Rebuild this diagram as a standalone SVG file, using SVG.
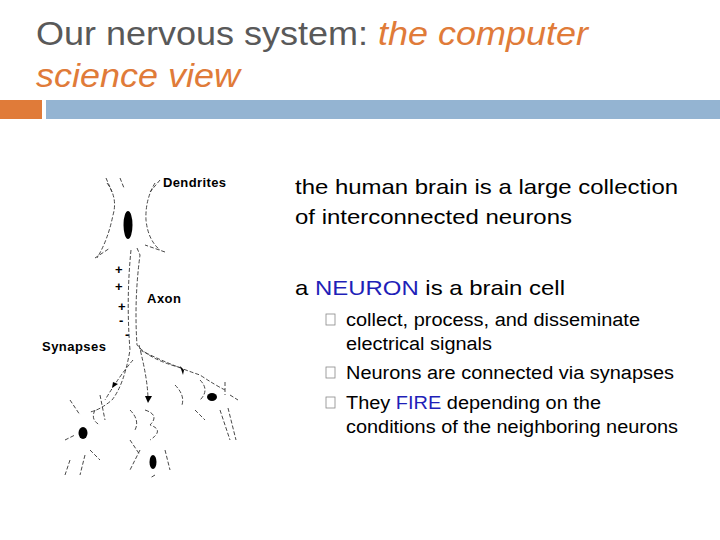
<svg xmlns="http://www.w3.org/2000/svg" width="720" height="540" viewBox="0 0 720 540">
<style>
.t{font-family:"Liberation Sans",Arial,sans-serif;fill:#595959;font-size:33px}
.o{fill:#E07B39;font-style:italic}
.b{font-family:"Liberation Sans",Arial,sans-serif;fill:#000;font-size:21px}
.s{font-family:"Liberation Sans",Arial,sans-serif;fill:#000;font-size:18px}
.bl{fill:#1F1FB8}
.lb{font-family:"Liberation Sans",Arial,sans-serif;font-weight:bold;font-size:13px;fill:#000}
.d{fill:none;stroke:#333;stroke-width:0.9;stroke-dasharray:4 2}
.n{fill:#000}
.bx{fill:none;stroke:#888;stroke-width:0.8}
</style>
<rect width="720" height="540" fill="#fff"/>
<g id="title">
<text class="t" x="36" y="45" textLength="552" lengthAdjust="spacingAndGlyphs">Our nervous system: <tspan class="o">the computer</tspan></text>
<text class="t o" x="36" y="87" textLength="204" lengthAdjust="spacingAndGlyphs">science view</text>
</g>
<g id="bars">
<rect x="0" y="100" width="42" height="19" fill="#E07B39"/>
<rect x="46" y="100" width="674" height="19" fill="#94B4D2"/>
</g>
<g id="neuron">
<path class="d" d="M107 183 Q118 198 113 215 Q108 240 97 258"/>
<path class="d" d="M155 183 Q145 200 146 220 Q148 240 160 250"/>
<path class="d" d="M106 178 L112 192 M120 178 L124 188 M160 180 L150 192 M95 258 L110 248 M165 252 L145 245"/>
<ellipse class="n" cx="128" cy="225" rx="4.5" ry="14"/>
<path class="d" d="M131 250 Q126 300 130 350 Q124 385 112 400 Q100 410 90 412"/>
<path class="d" d="M137 248 L140 255 Q134 300 137 345 Q150 360 182 368"/>
<path class="d" d="M139 345 Q148 380 148 400"/>
<path class="d" d="M140 350 Q170 365 200 375 Q215 385 225 390"/>
<path class="d" d="M133 360 Q120 375 105 400"/>
<path class="n" d="M113 382 L118 384 L112 388 Z"/>
<path class="n" d="M145 396 L152 396 L148 403 Z"/>
<path class="n" d="M180 366 L184 370 L183 375 Z"/>
<path class="d" d="M70 400 L80 415 M95 410 Q90 420 100 425 M65 440 L75 435 M90 450 L100 460 M85 455 L80 475 M70 460 L65 475 M100 395 L105 420"/>
<ellipse class="n" cx="83" cy="433" rx="4.5" ry="6"/>
<path class="d" d="M130 410 Q140 420 135 430 M145 410 Q160 415 150 425 Q165 430 150 440 M140 450 L130 470 M165 450 L170 470 M155 475 L150 478 M130 440 L140 455"/>
<ellipse class="n" cx="153" cy="462" rx="3.5" ry="7"/>
<path class="d" d="M175 385 Q185 395 182 405 M200 380 Q210 390 200 400 M225 382 L225 395 M230 395 L238 400 M220 410 L230 440 M228 408 L236 440 M195 410 L205 420"/>
<ellipse class="n" cx="212" cy="397" rx="5" ry="4"/>
<text class="lb" x="115" y="274">+</text>
<text class="lb" x="115" y="291">+</text>
<text class="lb" x="118" y="311">+</text>
<text class="lb" x="119" y="325">-</text>
<text class="lb" x="125" y="339">-</text>
<text class="lb" x="163" y="187" textLength="63">Dendrites</text>
<text class="lb" x="147" y="303" textLength="34">Axon</text>
<text class="lb" x="42" y="351" textLength="64">Synapses</text>
</g>
<g id="body">
<text class="b" x="295" y="194" textLength="383" lengthAdjust="spacingAndGlyphs">the human brain is a large collection</text>
<text class="b" x="295" y="224" textLength="277" lengthAdjust="spacingAndGlyphs">of interconnected neurons</text>
<text class="b" x="295" y="295" textLength="270" lengthAdjust="spacingAndGlyphs">a <tspan class="bl">NEURON</tspan> is a brain cell</text>
<rect class="bx" x="326" y="314" width="9" height="11"/>
<text class="s" x="346" y="326" textLength="294" lengthAdjust="spacingAndGlyphs">collect, process, and disseminate</text>
<text class="s" x="346" y="350" textLength="146" lengthAdjust="spacingAndGlyphs">electrical signals</text>
<rect class="bx" x="326" y="367" width="9" height="11"/>
<text class="s" x="346" y="379" textLength="328" lengthAdjust="spacingAndGlyphs">Neurons are connected via synapses</text>
<rect class="bx" x="326" y="397" width="9" height="11"/>
<text class="s" x="346" y="409" textLength="255" lengthAdjust="spacingAndGlyphs">They <tspan class="bl">FIRE</tspan> depending on the</text>
<text class="s" x="346" y="433" textLength="332" lengthAdjust="spacingAndGlyphs">conditions of the neighboring neurons</text>
</g>
</svg>
